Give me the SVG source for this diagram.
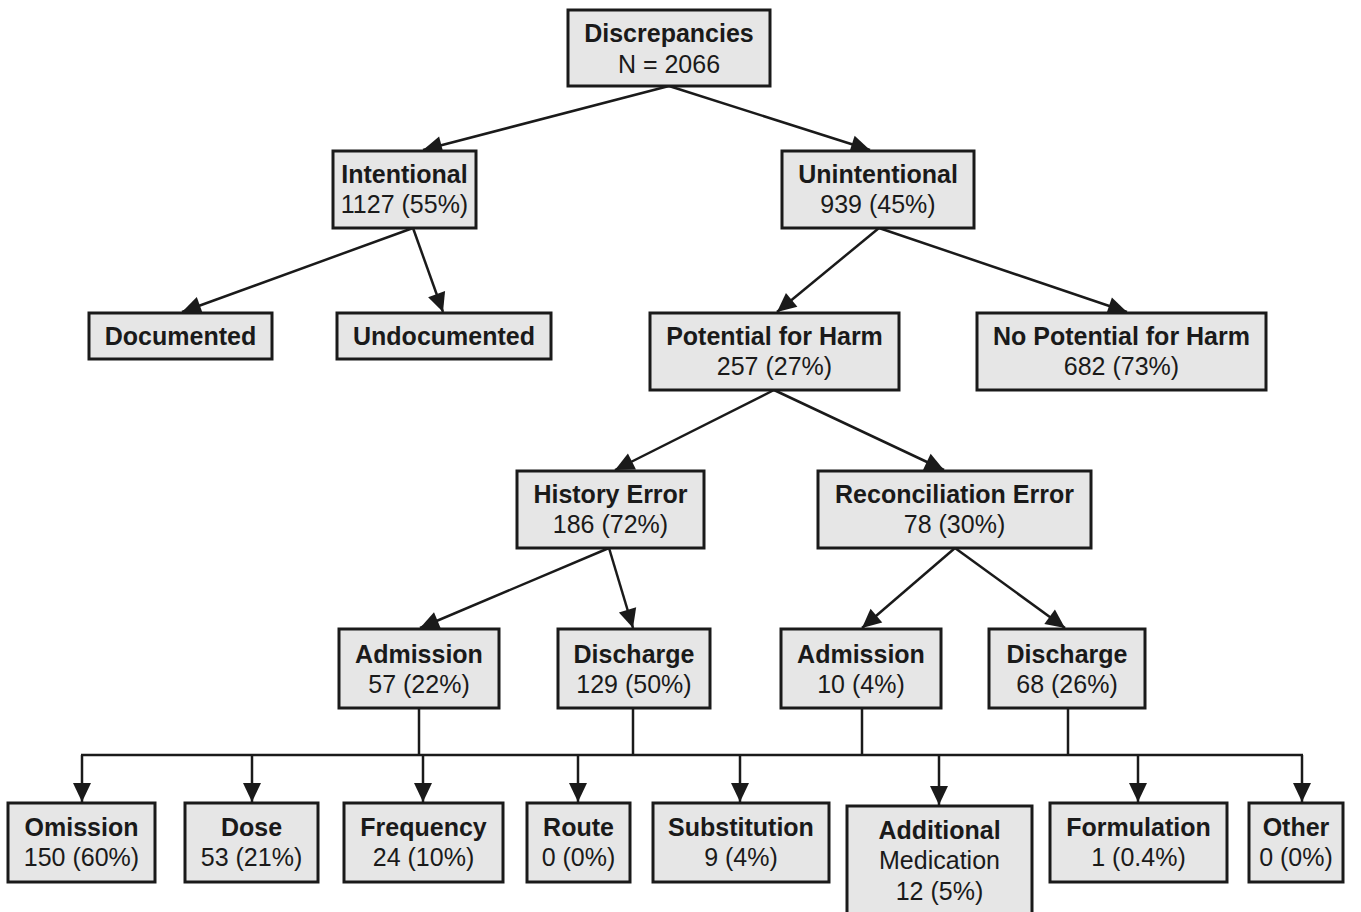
<svg xmlns="http://www.w3.org/2000/svg" width="1361" height="912" viewBox="0 0 1361 912">
<style>
.box{fill:#e6e6e6;stroke:#1a1a1a;stroke-width:3}
text{font-family:"Liberation Sans",Arial,Helvetica,sans-serif;font-size:25px;fill:#1a1a1a;text-anchor:middle}
.b{font-weight:bold}
.c line,.c path{stroke:#1a1a1a;stroke-width:2.5;fill:none}
</style>
<defs>
<marker id="ah" markerUnits="userSpaceOnUse" markerWidth="20" markerHeight="18" refX="19" refY="9" orient="auto" overflow="visible">
<path d="M0,0 L19,9 L0,18 z" fill="#1a1a1a"/>
</marker>
</defs>
<rect width="1361" height="912" fill="#fff"/>
<g class="c">
<line x1="669" y1="86" x2="423" y2="150" marker-end="url(#ah)"/>
<line x1="669" y1="86" x2="870" y2="150" marker-end="url(#ah)"/>
<line x1="413" y1="228" x2="182" y2="312" marker-end="url(#ah)"/>
<line x1="413" y1="228" x2="443" y2="312" marker-end="url(#ah)"/>
<line x1="879" y1="228" x2="777" y2="312" marker-end="url(#ah)"/>
<line x1="879" y1="228" x2="1127" y2="312" marker-end="url(#ah)"/>
<line x1="774" y1="390" x2="615" y2="470" marker-end="url(#ah)"/>
<line x1="774" y1="390" x2="944" y2="470" marker-end="url(#ah)"/>
<line x1="609" y1="548" x2="420" y2="628" marker-end="url(#ah)"/>
<line x1="609" y1="548" x2="633" y2="628" marker-end="url(#ah)"/>
<line x1="955" y1="548" x2="862" y2="628" marker-end="url(#ah)"/>
<line x1="955" y1="548" x2="1065" y2="628" marker-end="url(#ah)"/>
<line x1="419" y1="708" x2="419" y2="755"/>
<line x1="633" y1="708" x2="633" y2="755"/>
<line x1="862" y1="708" x2="862" y2="755"/>
<line x1="1068" y1="708" x2="1068" y2="755"/>
<line x1="81" y1="755" x2="1303" y2="755"/>
<line x1="82" y1="755" x2="82" y2="802" marker-end="url(#ah)"/>
<line x1="252" y1="755" x2="252" y2="802" marker-end="url(#ah)"/>
<line x1="423" y1="755" x2="423" y2="802" marker-end="url(#ah)"/>
<line x1="578" y1="755" x2="578" y2="802" marker-end="url(#ah)"/>
<line x1="740" y1="755" x2="740" y2="802" marker-end="url(#ah)"/>
<line x1="939" y1="755" x2="939" y2="805" marker-end="url(#ah)"/>
<line x1="1138" y1="755" x2="1138" y2="802" marker-end="url(#ah)"/>
<line x1="1302" y1="755" x2="1302" y2="802" marker-end="url(#ah)"/>
</g>
<g id="discrepancies"><rect class="box" x="568" y="10" width="202" height="76"/><text class="b" x="669" y="42">Discrepancies</text><text x="669" y="73">N = 2066</text></g>
<g id="intentional"><rect class="box" x="333" y="151" width="143" height="77"/><text class="b" x="404.5" y="183">Intentional</text><text x="404.5" y="213">1127 (55%)</text></g>
<g id="unintentional"><rect class="box" x="782" y="151" width="192" height="77"/><text class="b" x="878" y="183">Unintentional</text><text x="878" y="213">939 (45%)</text></g>
<g id="documented"><rect class="box" x="89" y="313" width="183" height="46"/><text class="b" x="180.5" y="345">Documented</text></g>
<g id="undocumented"><rect class="box" x="337" y="313" width="214" height="46"/><text class="b" x="444" y="345">Undocumented</text></g>
<g id="potential"><rect class="box" x="650" y="313" width="249" height="77"/><text class="b" x="774.5" y="345">Potential for Harm</text><text x="774.5" y="375">257 (27%)</text></g>
<g id="nopotential"><rect class="box" x="977" y="313" width="289" height="77"/><text class="b" x="1121.5" y="345">No Potential for Harm</text><text x="1121.5" y="375">682 (73%)</text></g>
<g id="history"><rect class="box" x="517" y="471" width="187" height="77"/><text class="b" x="610.5" y="503">History Error</text><text x="610.5" y="533">186 (72%)</text></g>
<g id="reconciliation"><rect class="box" x="818" y="471" width="273" height="77"/><text class="b" x="954.5" y="503">Reconciliation Error</text><text x="954.5" y="533">78 (30%)</text></g>
<g id="admission-h"><rect class="box" x="339" y="629" width="160" height="79"/><text class="b" x="419" y="663">Admission</text><text x="419" y="693">57 (22%)</text></g>
<g id="discharge-h"><rect class="box" x="558" y="629" width="152" height="79"/><text class="b" x="634" y="663">Discharge</text><text x="634" y="693">129 (50%)</text></g>
<g id="admission-r"><rect class="box" x="781" y="629" width="160" height="79"/><text class="b" x="861" y="663">Admission</text><text x="861" y="693">10 (4%)</text></g>
<g id="discharge-r"><rect class="box" x="989" y="629" width="156" height="79"/><text class="b" x="1067" y="663">Discharge</text><text x="1067" y="693">68 (26%)</text></g>
<g id="omission"><rect class="box" x="8" y="803" width="147" height="79"/><text class="b" x="81.5" y="836">Omission</text><text x="81.5" y="866">150 (60%)</text></g>
<g id="dose"><rect class="box" x="185" y="803" width="133" height="79"/><text class="b" x="251.5" y="836">Dose</text><text x="251.5" y="866">53 (21%)</text></g>
<g id="frequency"><rect class="box" x="344" y="803" width="159" height="79"/><text class="b" x="423.5" y="836">Frequency</text><text x="423.5" y="866">24 (10%)</text></g>
<g id="route"><rect class="box" x="527" y="803" width="103" height="79"/><text class="b" x="578.5" y="836">Route</text><text x="578.5" y="866">0 (0%)</text></g>
<g id="substitution"><rect class="box" x="653" y="803" width="176" height="79"/><text class="b" x="741" y="836">Substitution</text><text x="741" y="866">9 (4%)</text></g>
<g id="additional"><rect class="box" x="847" y="806" width="185" height="120"/><text class="b" x="939.5" y="839">Additional</text><text x="939.5" y="869">Medication</text><text x="939.5" y="900">12 (5%)</text></g>
<g id="formulation"><rect class="box" x="1050" y="803" width="177" height="79"/><text class="b" x="1138.5" y="836">Formulation</text><text x="1138.5" y="866">1 (0.4%)</text></g>
<g id="other"><rect class="box" x="1249" y="803" width="94" height="79"/><text class="b" x="1296" y="836">Other</text><text x="1296" y="866">0 (0%)</text></g>
</svg>
